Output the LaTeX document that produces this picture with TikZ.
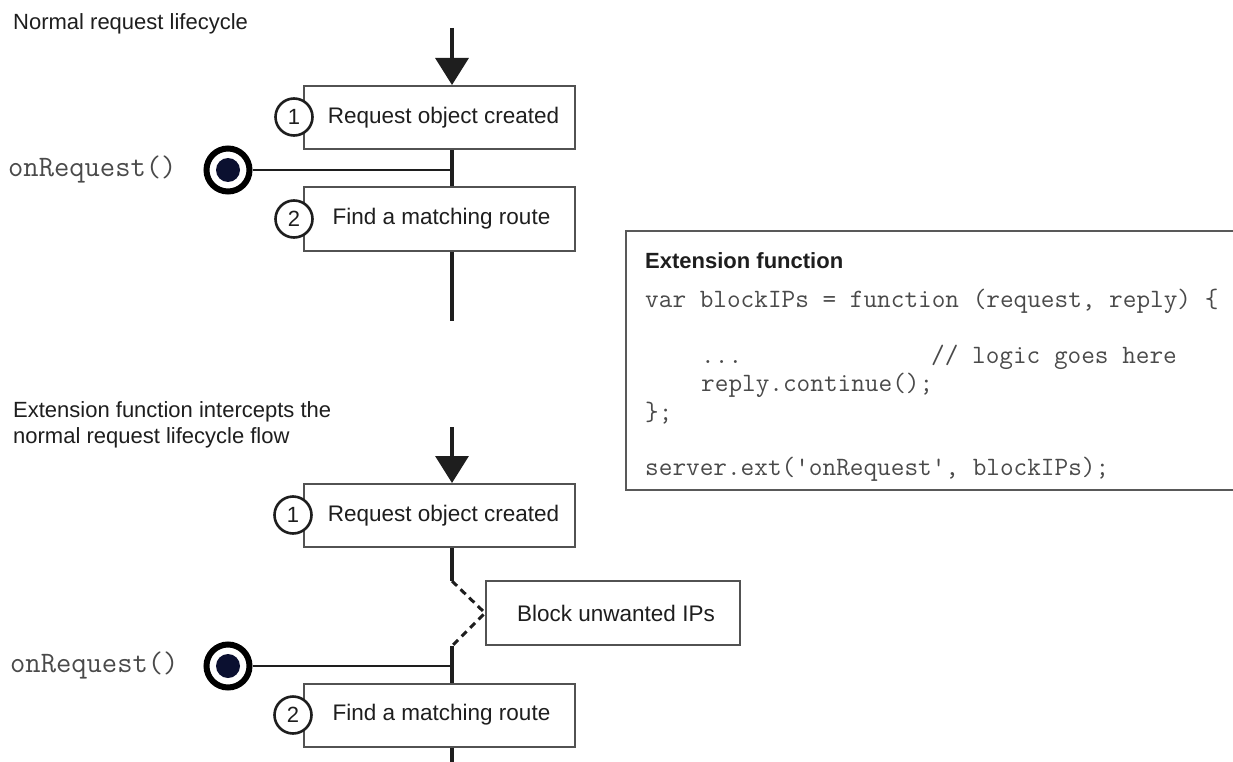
\documentclass[tikz,border=0pt]{standalone}
\usepackage{fontspec}
\setmainfont{Liberation Sans}
\usetikzlibrary{arrows.meta}
\definecolor{navy}{HTML}{0B1030}
\definecolor{ink}{HTML}{1E1E1E}
\definecolor{codegray}{HTML}{4A4A4A}
\begin{document}
\begin{tikzpicture}[x=1pt,y=-1pt,
  stepbox/.style={draw=black!68, line width=2pt, fill=white, minimum width=271pt, minimum height=63pt, inner sep=0pt, font=\fontsize{22.5}{27}\selectfont, text=ink},
  num/.style={circle, draw=ink, line width=2.6pt, fill=white, minimum size=37pt, inner sep=0pt, font=\fontsize{22}{26}\selectfont, text=ink},
  target/.style={circle, draw=black, line width=6pt, fill=white, minimum size=43pt, inner sep=0pt},
  dotnode/.style={circle, fill=navy, minimum size=24pt, inner sep=0pt},
  flow/.style={line width=3.4pt, draw=ink},
  hook/.style={line width=2.6pt, draw=ink},
  lbl/.style={anchor=base west, inner sep=0pt, font=\fontsize{22}{26}\selectfont, text=ink},
  hooklbl/.style={anchor=base west, inner sep=0pt, font=\ttfamily\fontsize{29.7}{34}\selectfont, text=codegray},
  code/.style={anchor=base west, inner sep=0pt, font=\ttfamily\fontsize{26.5}{31}\selectfont, text=codegray},
  tip/.style={-{Triangle[width=33pt,length=27pt]}}
]
\useasboundingbox (0,0) rectangle (1233,762);
\fill[white] (0,0) rectangle (1233,762);

% ---------- top: normal lifecycle ----------
\node[lbl] (title1) at (13,30) {Normal request lifecycle};
\coordinate (in1) at (452,28);
\coordinate (j1) at (452,170);
\coordinate (out1) at (452,321);
\node[stepbox] (b1) at (439.5,117.5) {\hspace*{8pt}Request object created};
\node[stepbox] (b2) at (439.5,219) {\hspace*{4pt}Find a matching route};
\node[num] (n1) at (294,117) {1};
\node[num] (n2) at (294,219) {2};
\draw[flow,tip] (in1) -- (in1 |- b1.north);
\draw[flow] (j1 |- b1.south) -- (j1 |- b2.north);
\draw[flow] (j1 |- b2.south) -- (out1);
\node[target] (t1) at (228,170) {};
\node[dotnode] (d1) at (t1.center) {};
\draw[hook] (t1.east) -- (j1);
\node[hooklbl] (h1) at (8,176) {onRequest()};

% ---------- code box ----------
\node[draw=black!65, line width=1.8pt, minimum width=625pt, minimum height=259pt, anchor=north west, inner sep=0pt] (codebox) at (625,230) {};
\node[anchor=base west, inner sep=0pt, font=\bfseries\fontsize{22}{26}\selectfont, text=ink] (ct) at (645,268) {Extension function};
\node[code] (c1) at (645,307) {var blockIPs = function (request, reply) \{};
\node[code] (c2) at (701,363) {...};
\node[code] (c3) at (931,363) {// logic goes here};
\node[code] (c4) at (701,391) {reply.continue();};
\node[code] (c5) at (645,420) {\};};
\node[code] (c6) at (645,475) {server.ext('onRequest', blockIPs);};

% ---------- bottom: intercepted lifecycle ----------
\node[lbl] (title2) at (13,417) {Extension function intercepts the};
\node[lbl] (title3) at (13,443) {normal request lifecycle flow};
\coordinate (in2) at (452,427);
\coordinate (k1) at (452,581);
\coordinate (k2) at (452,646);
\coordinate (j2) at (452,666);
\coordinate (out2) at (452,765);
\node[stepbox] (b3) at (439.5,515.5) {\hspace*{8pt}Request object created};
\node[stepbox] (b4) at (439.5,715) {\hspace*{4pt}Find a matching route};
\node[num] (n3) at (293,515) {1};
\node[num] (n4) at (293,715) {2};
\node[stepbox, minimum width=254pt, minimum height=64pt] (blk) at (613,613) {\hspace*{6pt}Block unwanted IPs};
\draw[flow,tip] (in2) -- (in2 |- b3.north);
\draw[flow] (k1 |- b3.south) -- (k1);
\draw[line width=3pt, draw=ink, dash pattern=on 7pt off 5pt] (k1) -- (blk.west) -- (k2);
\draw[flow] (k2) -- (k2 |- b4.north);
\draw[flow] (k2 |- b4.south) -- (out2);
\node[target] (t2) at (228,666) {};
\node[dotnode] (d2) at (t2.center) {};
\draw[hook] (t2.east) -- (j2);
\node[hooklbl] (h2) at (10,672) {onRequest()};
\end{tikzpicture}
\end{document}
